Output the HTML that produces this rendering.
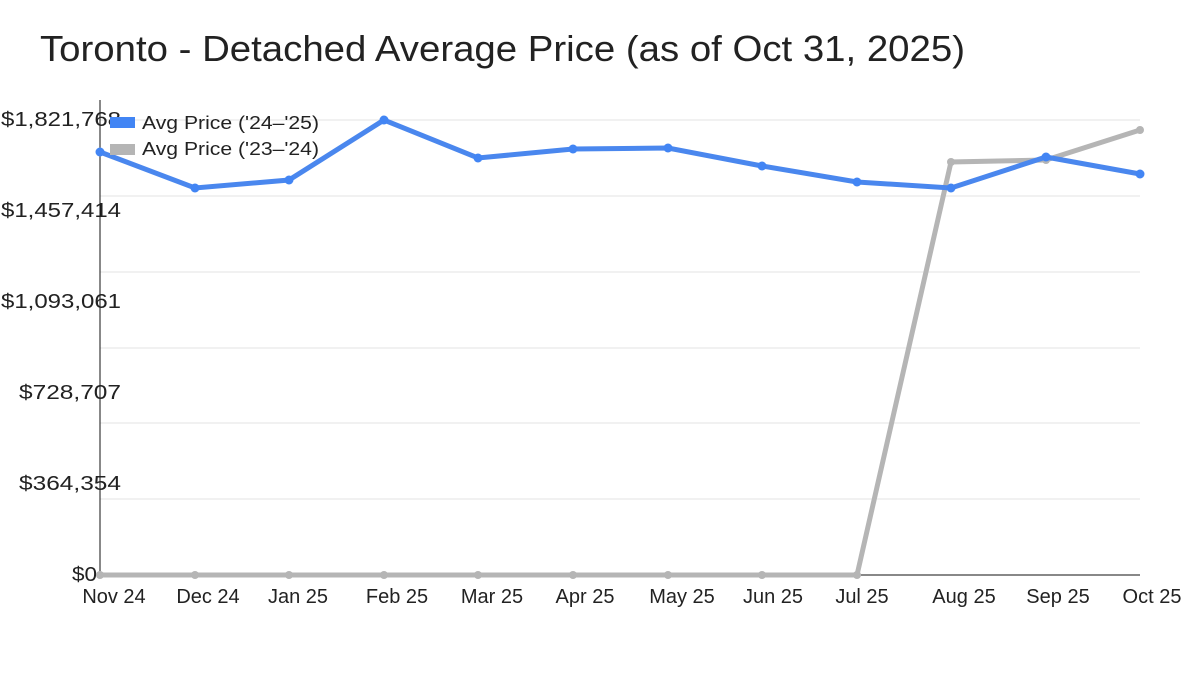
<!DOCTYPE html>
<html><head><style>
body{margin:0;background:#fff;}
svg{display:block;font-family:"Liberation Sans","DejaVu Sans",sans-serif;}
</style></head><body>
<svg width="1200" height="675" viewBox="0 0 1200 675">
<text x="40" y="61" font-size="36" fill="#222" textLength="925" lengthAdjust="spacingAndGlyphs">Toronto - Detached Average Price (as of Oct 31, 2025)</text>
<g stroke="#e3e3e3" stroke-width="1">
<line x1="100" x2="1140" y1="120" y2="120"/>
<line x1="100" x2="1140" y1="196" y2="196"/>
<line x1="100" x2="1140" y1="272" y2="272"/>
<line x1="100" x2="1140" y1="348" y2="348"/>
<line x1="100" x2="1140" y1="423" y2="423"/>
<line x1="100" x2="1140" y1="499" y2="499"/>
</g>
<line x1="100" y1="100" x2="100" y2="575" stroke="#111" stroke-width="1"/>
<line x1="100" y1="575" x2="1140" y2="575" stroke="#111" stroke-width="1"/>
<g font-size="20" fill="#222" text-anchor="end">
<text x="121" y="126" textLength="120" lengthAdjust="spacingAndGlyphs">$1,821,768</text>
<text x="121" y="217" textLength="120" lengthAdjust="spacingAndGlyphs">$1,457,414</text>
<text x="121" y="308" textLength="120" lengthAdjust="spacingAndGlyphs">$1,093,061</text>
<text x="121" y="399" textLength="102" lengthAdjust="spacingAndGlyphs">$728,707</text>
<text x="121" y="490" textLength="102" lengthAdjust="spacingAndGlyphs">$364,354</text>
<text x="97" y="581" textLength="25" lengthAdjust="spacingAndGlyphs">$0</text>
</g>
<g font-size="20" fill="#222" text-anchor="middle">
<text x="114" y="603">Nov 24</text>
<text x="208" y="603">Dec 24</text>
<text x="298" y="603">Jan 25</text>
<text x="397" y="603">Feb 25</text>
<text x="492" y="603">Mar 25</text>
<text x="585" y="603">Apr 25</text>
<text x="682" y="603">May 25</text>
<text x="773" y="603">Jun 25</text>
<text x="862" y="603">Jul 25</text>
<text x="964" y="603">Aug 25</text>
<text x="1058" y="603">Sep 25</text>
<text x="1152" y="603">Oct 25</text>
</g>
<polyline fill="none" stroke="#b5b5b5" stroke-width="5" points="100,575 195,575 289,575 384,575 478,575 573,575 668,575 762,575 857,575 951,162 1046,160 1140,130"/>
<g fill="#b5b5b5">
<circle cx="100" cy="575" r="4"/><circle cx="195" cy="575" r="4"/><circle cx="289" cy="575" r="4"/><circle cx="384" cy="575" r="4"/><circle cx="478" cy="575" r="4"/><circle cx="573" cy="575" r="4"/><circle cx="668" cy="575" r="4"/><circle cx="762" cy="575" r="4"/><circle cx="857" cy="575" r="4"/><circle cx="951" cy="162" r="4"/><circle cx="1046" cy="160" r="4"/><circle cx="1140" cy="130" r="4"/>
</g>
<polyline fill="none" stroke="#4a87ee" stroke-width="5" points="100,152 195,188 289,180 384,120 478,158 573,149 668,148 762,166 857,182 951,188 1046,157 1140,174"/>
<g fill="#4285f4">
<circle cx="100" cy="152" r="4.5"/><circle cx="195" cy="188" r="4.5"/><circle cx="289" cy="180" r="4.5"/><circle cx="384" cy="120" r="4.5"/><circle cx="478" cy="158" r="4.5"/><circle cx="573" cy="149" r="4.5"/><circle cx="668" cy="148" r="4.5"/><circle cx="762" cy="166" r="4.5"/><circle cx="857" cy="182" r="4.5"/><circle cx="951" cy="188" r="4.5"/><circle cx="1046" cy="157" r="4.5"/><circle cx="1140" cy="174" r="4.5"/>
</g>
<rect x="110" y="117" width="25" height="11" fill="#4285f4"/>
<rect x="110" y="144" width="25" height="11" fill="#b5b5b5"/>
<g font-size="18" fill="#222">
<text x="142" y="129" textLength="177" lengthAdjust="spacingAndGlyphs">Avg Price ('24–'25)</text>
<text x="142" y="155" textLength="177" lengthAdjust="spacingAndGlyphs">Avg Price ('23–'24)</text>
</g>
</svg>
</body></html>
